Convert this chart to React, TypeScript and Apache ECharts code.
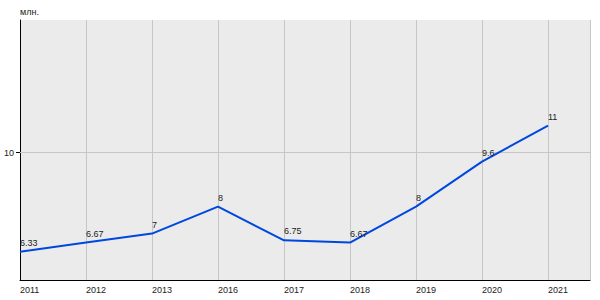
import React, { useEffect, useRef } from "react";
import * as echarts from "echarts";

const categories = ["2011", "2012", "2013", "2016", "2017", "2018", "2019", "2020", "2021"];
const values = [6.33, 6.67, 7, 8, 6.75, 6.67, 8, 9.67, 11];
const pointLabels = ["6.33", "6.67", "7", "8", "6.75", "6.67", "8", "9.6", "11"];
const yTicks = [10];
const unitLabel = "млн.";

export default function App() {
  const ref = useRef<HTMLDivElement>(null);
  useEffect(() => {
    if (!ref.current) return;
    const chart = echarts.init(ref.current, null, { renderer: "svg" });
    const font = "Liberation Sans, Arial, sans-serif";
    const fs = 9;
    chart.setOption({
      animation: false,
      textStyle: { fontFamily: font },
      grid: {
        left: 20,
        top: 20,
        right: 10,
        bottom: 20,
        show: true,
        backgroundColor: "#ebebeb",
        borderWidth: 0,
        containLabel: false,
      },
      graphic: [
        {
          type: "text",
          left: 20,
          top: 7,
          style: { text: unitLabel, fontSize: fs, fill: "#222", fontFamily: font },
        },
      ],
      xAxis: {
        type: "value",
        min: 0,
        max: 8.636,
        interval: 1,
        axisLine: { show: true, lineStyle: { color: "#000", width: 1 } },
        axisTick: { show: false },
        splitLine: { show: true, lineStyle: { color: "#c6c6c6", width: 1 } },
        axisLabel: {
          fontSize: fs,
          color: "#222",
          align: "left",
          margin: 5,
          showMaxLabel: false,
          formatter: (v: number) => {
            const i = Math.round(v);
            return Math.abs(v - i) < 1e-6 && categories[i] ? categories[i] : "";
          },
        },
      },
      yAxis: {
        type: "value",
        min: 5.28,
        max: 14.92,
        axisLine: { show: true, lineStyle: { color: "#000", width: 1 } },
        axisTick: { show: true, length: 4, lineStyle: { color: "#000" }, customValues: yTicks },
        axisLabel: { fontSize: fs, color: "#222", margin: 6, customValues: yTicks },
        splitLine: { show: false },
      },
      series: [
        {
          type: "line",
          data: values.map((v, i) => [i, v]),
          symbol: "circle",
          symbolSize: 1,
          showSymbol: true,
          itemStyle: { color: "rgba(0,0,0,0)" },
          lineStyle: { color: "#0047e0", width: 2 },
          label: {
            show: true,
            position: "top",
            align: "left",
            distance: 4,
            fontSize: fs,
            color: "#222",
            formatter: (p: any) => pointLabels[p.dataIndex],
          },
          markLine: {
            silent: true,
            symbol: "none",
            label: { show: false },
            lineStyle: { color: "#c6c6c6", type: "solid", width: 1 },
            data: yTicks.map((t) => ({ yAxis: t })),
            z: 1,
          },
          z: 3,
        },
      ],
    });
    return () => chart.dispose();
  }, []);
  return (
    <div
      ref={ref}
      style={{ position: "absolute", left: 0, top: 0, width: 600, height: 300 }}
    />
  );
}
